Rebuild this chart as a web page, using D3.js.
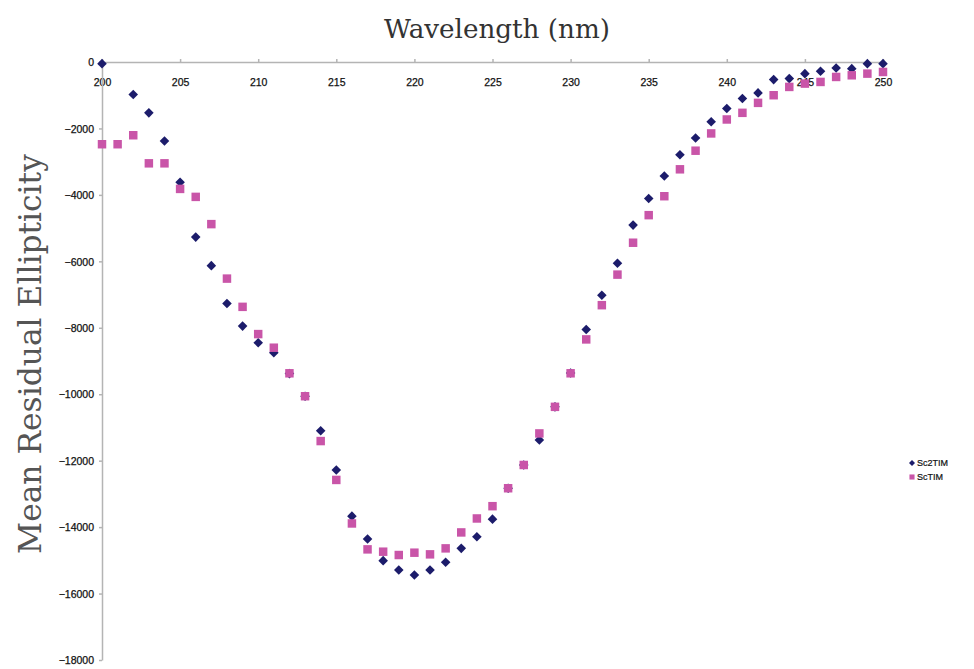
<!DOCTYPE html>
<html>
<head>
<meta charset="utf-8">
<script src="https://cdn.jsdelivr.net/npm/d3@7"></script>
<style>
  body { margin: 0; background: #fff; }
  svg { display: block; }
</style>
</head>
<body>
<svg id="chart" width="974" height="669"></svg>
<script>
// wavelength in nm, 200..250
var wavelengths = d3.range(200, 251)

// Sc2TIM (navy diamonds), null where no point shows
var sc2tim = [
  -50, null, -980, -1530, -2380, -3620, -5270, -6130, -7270, -7950,
  -8450, -8750, -9380, -10060, -11100, -12280, -13670, -14360, -15010, -15290,
  -15440, -15290, -15060, -14640, -14290, -13760, -12830, -12130, -11380, -10380,
  -9360, -8050, -7020, -6060, -4910, -4110, -3430, -2790, -2290, -1800,
  -1400, -1100, -930, -530, -500, -350, -280, -180, -200, -50,
  -50
]

// ScTIM (pink squares)
var sctim = [
  -2475, -2475, -2205, -3050, -3050, -3820, -4060, -4880, -6520, -7370,
  -8190, -8600, -9370, -10060, -11410, -12580, -13890, -14670, -14740, -14840,
  -14770, -14820, -14640, -14160, -13740, -13370, -12830, -12130, -11180, -10380,
  -9370, -8350, -7320, -6400, -5440, -4610, -4040, -3230, -2670, -2150,
  -1730, -1530, -1230, -1000, -750, -650, -600, -450, -400, -350,
  -300
]

var xTicks = [200, 205, 210, 215, 220, 225, 230, 235, 240, 245, 250]
var yTicks = [0, -2000, -4000, -6000, -8000, -10000, -12000, -14000, -16000, -18000]
var seriesNames = ['Sc2TIM', 'ScTIM']

var colorNavy = '#1c1c6b'
var colorPink = '#c955a8'

var svg = d3.select('#chart')

var x = d3.scaleLinear().domain([200, 250]).range([102, 883])
var y = d3.scaleLinear().domain([0, -18000]).range([62, 660])

// axes
var xAxis = svg.append('g')
  .attr('transform', 'translate(0,' + y(0) + ')')
  .call(d3.axisBottom(x).tickValues(xTicks).tickSize(-3).tickPadding(17).tickSizeOuter(0))
var yAxis = svg.append('g')
  .attr('transform', 'translate(' + x(200) + ',0)')
  .call(d3.axisLeft(y).tickValues(yTicks).tickSize(3).tickPadding(5).tickSizeOuter(0).tickFormat(d3.format('d')))

svg.selectAll('.domain, .tick line').attr('stroke', '#b4b4b4').attr('stroke-width', 1.5)
svg.selectAll('.tick text')
  .attr('font-family', 'Liberation Sans, Arial, sans-serif')
  .attr('font-size', 10.5)
  .attr('fill', '#111')
  .attr('stroke', '#111')
  .attr('stroke-width', 0.25)
yAxis.selectAll('.tick text').attr('dy', '0.35em')

// data points
var diamond = d3.symbol().type(d3.symbolSquare).size(46)
var square = d3.symbol().type(d3.symbolSquare).size(72)

svg.append('g').selectAll('path')
  .data(wavelengths.map((w, i) => [w, sc2tim[i]]).filter(d => d[1] != null))
  .join('path')
  .attr('d', diamond)
  .attr('fill', colorNavy)
  .attr('transform', d => 'translate(' + x(d[0]) + ',' + y(d[1]) + ') rotate(45)')

svg.append('g').selectAll('path')
  .data(wavelengths.map((w, i) => [w, sctim[i]]).filter(d => d[1] != null))
  .join('path')
  .attr('d', square)
  .attr('fill', colorPink)
  .attr('transform', d => 'translate(' + x(d[0]) + ',' + y(d[1]) + ')')

// titles
function fitText(sel, target) {
  var len = sel.node().getComputedTextLength()
  var fs = parseFloat(sel.attr('font-size'))
  sel.attr('font-size', fs * target / len)
}

var title = svg.append('text')
  .attr('x', 497).attr('y', 38)
  .attr('text-anchor', 'middle')
  .attr('font-family', 'DejaVu Serif, serif')
  .attr('font-size', 22)
  .attr('fill', '#333')
  .text('Wavelength (nm)')
fitText(title, 226)

var ylab = svg.append('text')
  .attr('transform', 'translate(41,354) rotate(-90)')
  .attr('text-anchor', 'middle')
  .attr('font-family', 'DejaVu Serif, serif')
  .attr('font-size', 22)
  .attr('fill', '#555')
  .text('Mean Residual Ellipticity')
fitText(ylab, 400)

// legend
var legend = svg.append('g').attr('transform', 'translate(908,463)')
var lg = legend.selectAll('g').data(seriesNames).join('g')
  .attr('transform', (d, i) => 'translate(0,' + i * 14 + ')')
lg.append('path')
  .attr('d', (d, i) => d3.symbol().type(d3.symbolSquare).size(i == 0 ? 18 : 26)())
  .attr('fill', (d, i) => i == 0 ? colorNavy : colorPink)
  .attr('transform', (d, i) => 'translate(4,0)' + (i == 0 ? ' rotate(45)' : ''))
lg.append('text')
  .attr('x', 9).attr('dy', '0.35em')
  .attr('font-family', 'Liberation Sans, Arial, sans-serif')
  .attr('font-size', 9)
  .attr('fill', '#111')
  .attr('stroke', '#111')
  .attr('stroke-width', 0.2)
  .text(d => d)
</script>
</body>
</html>
